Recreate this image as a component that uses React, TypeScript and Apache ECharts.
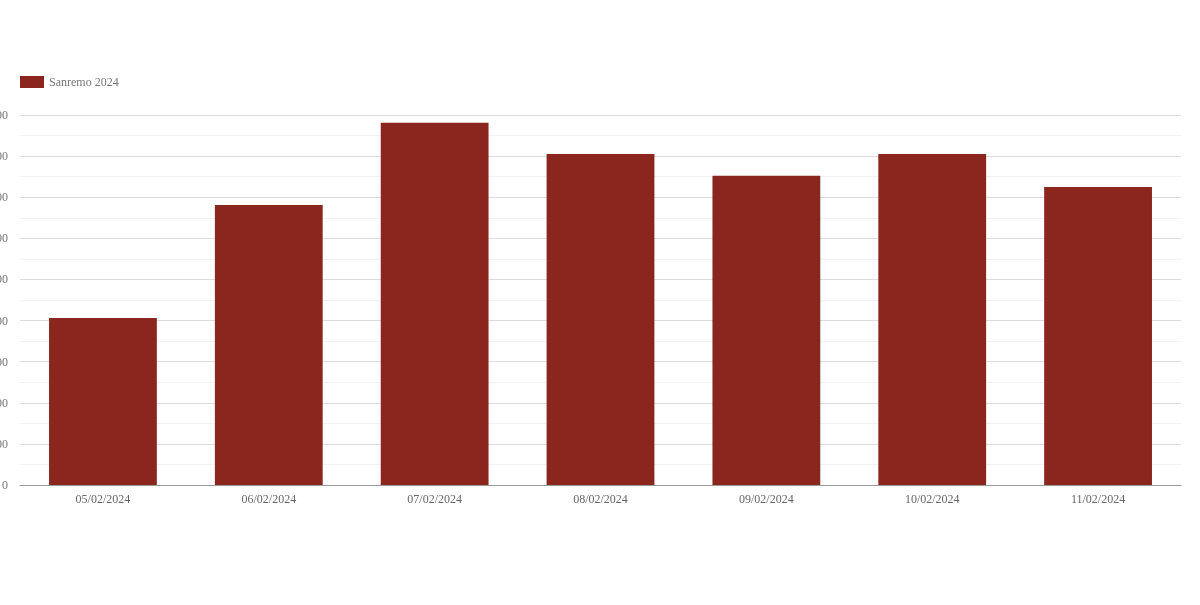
import React, { useEffect, useRef } from "react";
import * as echarts from "echarts";

const categories = ["05/02/2024", "06/02/2024", "07/02/2024", "08/02/2024", "09/02/2024", "10/02/2024", "11/02/2024"];
const seriesName = "Sanremo 2024";
const values = [406, 681, 881, 805, 752, 805, 725];

export default function App() {
  const ref = useRef<HTMLDivElement>(null);
  useEffect(() => {
    if (!ref.current) return;
    const chart = echarts.init(ref.current, undefined, { renderer: "svg" });
    chart.setOption({
      animation: false,
      textStyle: { fontFamily: "serif" },
      legend: {
        left: 15,
        top: 71,
        itemWidth: 24,
        itemHeight: 12,
        itemGap: 10,
        icon: "rect",
        textStyle: { color: "#777", fontSize: 12, fontFamily: "serif" },
        data: [seriesName],
      },
      grid: { left: 20, right: 19, top: 115, bottom: 120, containLabel: false, outerBoundsMode: "none" },
      xAxis: {
        type: "category",
        data: categories,
        axisLine: { lineStyle: { color: "#999" } },
        axisTick: { show: false },
        axisLabel: { color: "#666", fontSize: 12, fontFamily: "serif", margin: 8 },
      },
      yAxis: {
        type: "value",
        min: 0,
        max: 900,
        interval: 100,
        axisLine: { show: false },
        axisTick: { show: false },
        axisLabel: { color: "#777", fontSize: 12, fontFamily: "serif", margin: 12 },
        splitLine: { lineStyle: { color: "#ddd" } },
        minorTick: { show: false, splitNumber: 2 },
        minorSplitLine: { show: true, lineStyle: { color: "#f2f2f2" } },
      },
      series: [
        {
          name: seriesName,
          type: "bar",
          data: values,
          barWidth: "65%",
          itemStyle: { color: "#8B261F" },
        },
      ],
    });
    return () => chart.dispose();
  }, []);
  return <div ref={ref} style={{ position: "fixed", left: 0, top: 0, width: 1200, height: 605 }} />;
}
